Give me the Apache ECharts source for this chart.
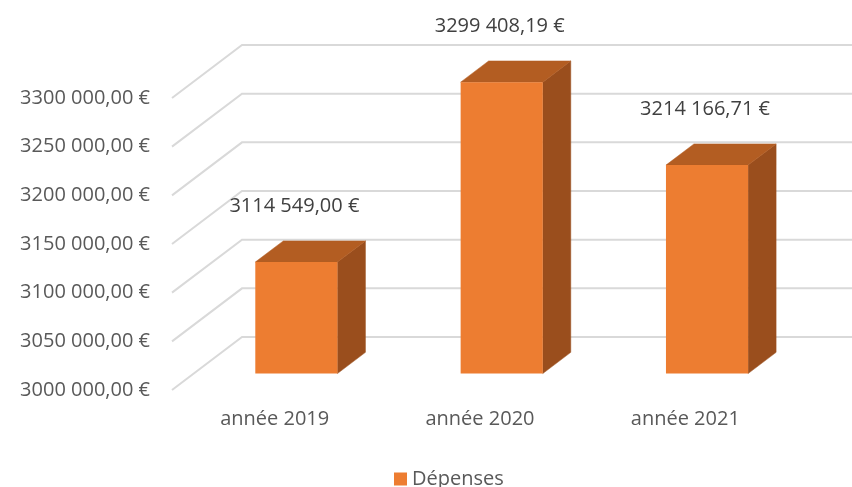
<!DOCTYPE html>
<html>
<head>
<meta charset="utf-8">
<script src="https://cdn.jsdelivr.net/npm/echarts@6/dist/echarts.min.js"></script>
<style>
	html, body { margin: 0; padding: 0; background: #fff; }
	#main { width: 852px; height: 487px; }
</style>
</head>
<body>
<div id="main"></div>
<script>
	// données
	var categories = ['année 2019', 'année 2020', 'année 2021'];
	var depenses = [3114549.00, 3299408.19, 3214166.71];
	var yTicks = [3000000, 3050000, 3100000, 3150000, 3200000, 3250000, 3300000];

	// profondeur de la vue 3D (px)
	var DX = 70, DY = -53;
	var textColor = '#595959';
	var font = '"Open Sans", sans-serif';

	function fmt(v) {
		var s = v.toFixed(2).split('.');
		var ent = s[0];
		ent = ent.slice(0, ent.length - 3) + ' ' + ent.slice(ent.length - 3);
		return ent + ',' + s[1] + ' €';
	}

	var myChart = echarts.init(document.getElementById('main'));

	var option = {
		animation: false,
		textStyle: { fontFamily: font },
		grid: { left: 172, right: 64, top: 98, bottom: 97 },
		legend: {
			data: ['Dépenses'],
			left: 389,
			top: 464,
			icon: 'rect',
			itemWidth: 13,
			itemHeight: 13,
			itemGap: 6,
			textStyle: { color: textColor, fontSize: 20, fontFamily: font }
		},
		xAxis: {
			type: 'category',
			data: categories,
			axisLine: { show: false },
			axisTick: { show: false },
			axisLabel: { color: textColor, fontSize: 20, margin: 19, fontFamily: font }
		},
		yAxis: {
			type: 'value',
			min: 3000000,
			max: 3300000,
			interval: 50000,
			splitLine: { show: false },
			axisLine: { show: false },
			axisTick: { show: false },
			axisLabel: {
				color: textColor, fontSize: 20, margin: 22, fontFamily: font,
				formatter: function(v) { return fmt(v); }
			}
		},
		series: [{
			// quadrillage en perspective
			name: 'grille',
			type: 'custom',
			clip: false,
			silent: true,
			z: 1,
			data: yTicks.map(function(v) { return [0, v]; }),
			renderItem: function(params, api) {
				var p = api.coord([0, api.value(1)]);
				var bw = api.size([1, 0])[0];
				var x0 = p[0] - bw / 2;
				return {
					type: 'polyline',
					shape: { points: [[x0, p[1]], [x0 + DX, p[1] + DY], [852, p[1] + DY]] },
					style: { stroke: '#d9d9d9', lineWidth: 2, fill: null }
				};
			}
		}, {
			name: 'Dépenses',
			type: 'custom',
			clip: false,
			z: 2,
			itemStyle: { color: '#ED7D31' },
			data: depenses.map(function(v, i) { return [i, v]; }),
			renderItem: function(params, api) {
				var idx = api.value(0);
				var val = api.value(1);
				var top = api.coord([idx, val]);
				var base = api.coord([idx, 3000000]);
				var bw = api.size([1, 0])[0];
				var f = 0.31, d = 0.4;
				var sx = f * DX, sy = f * DY;
				var ddx = d * DX, ddy = d * DY;
				var xl = top[0] - bw * 0.2 + sx;
				var xr = top[0] + bw * 0.2 + sx;
				var yt = top[1] + sy;
				var yb = base[1] + sy;
				return {
					type: 'group',
					children: [{
						type: 'polygon',
						shape: { points: [[xr, yt], [xr + ddx, yt + ddy], [xr + ddx, yb + ddy], [xr, yb]] },
						style: { fill: '#9A4E1D', stroke: '#9A4E1D', lineWidth: 0.5 }
					}, {
						type: 'polygon',
						shape: { points: [[xl, yt], [xr, yt], [xr + ddx, yt + ddy], [xl + ddx, yt + ddy]] },
						style: { fill: '#B35D22', stroke: '#B35D22', lineWidth: 0.5 }
					}, {
						type: 'rect',
						shape: { x: xl, y: yt, width: xr - xl, height: yb - yt },
						style: { fill: '#ED7D31' }
					}, {
						type: 'text',
						style: {
							x: (xl + xr) / 2 - 2, y: yt + ddy - 35,
							text: fmt(val),
							fill: '#404040',
							fontSize: 20,
							fontFamily: font,
							align: 'center',
							verticalAlign: 'middle'
						}
					}]
				};
			}
		}]
	};
	myChart.setOption(option);
</script>
</body>
</html>
